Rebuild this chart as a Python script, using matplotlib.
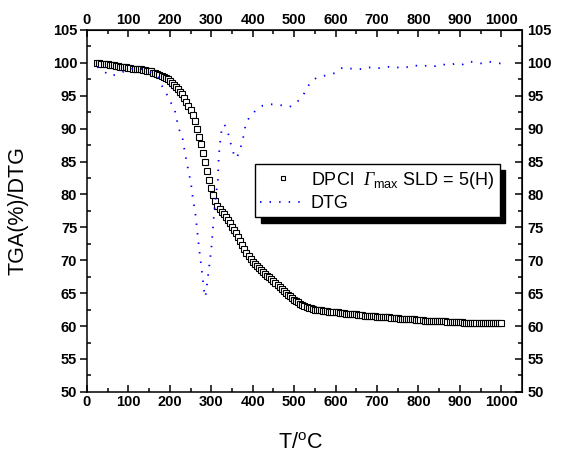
import matplotlib
matplotlib.use('Agg')
import matplotlib.pyplot as plt
import numpy as np

plt.rcParams['font.family'] = ['Liberation Sans', 'DejaVu Sans']
plt.rcParams['mathtext.fontset'] = 'custom'
plt.rcParams['mathtext.rm'] = 'Liberation Sans'
plt.rcParams['mathtext.it'] = 'Liberation Sans:italic'
# italic capital Gamma: mathtext keeps Greek capitals upright in \mathit
plt.rcParams['mathtext.cal'] = 'Liberation Serif:italic'

# TGA curve, one reading every 5 degC from 25 to 1000
tga_temp = np.arange(25, 1001, 5)
tga_mass = [
    100.0, 100.0, 99.9, 99.9, 99.8, 99.8, 99.7, 99.6, 99.6, 99.5,
    99.5, 99.4, 99.4, 99.3, 99.3, 99.2, 99.2, 99.1, 99.1, 99.0,
    99.0, 99.0, 98.9, 98.9, 98.8, 98.8, 98.7, 98.5, 98.4, 98.3,
    98.1, 98.0, 97.8, 97.7, 97.5, 97.3, 97.0, 96.7, 96.4, 96.0,
    95.6, 95.2, 94.7, 94.1, 93.5, 92.9, 92.1, 91.1, 90.0, 88.8,
    87.6, 86.3, 84.9, 83.5, 82.2, 81.0, 79.9, 79.0, 78.3, 77.8,
    77.4, 77.0, 76.6, 76.1, 75.6, 75.1, 74.6, 74.1, 73.5, 72.9,
    72.3, 71.7, 71.1, 70.6, 70.2, 69.8, 69.5, 69.1, 68.8, 68.5,
    68.2, 67.9, 67.6, 67.4, 67.1, 66.8, 66.5, 66.2, 65.9, 65.6,
    65.3, 65.0, 64.7, 64.5, 64.2, 64.0, 63.8, 63.6, 63.4, 63.2,
    63.0, 62.9, 62.8, 62.7, 62.6, 62.5, 62.5, 62.4, 62.4, 62.3,
    62.3, 62.3, 62.2, 62.2, 62.2, 62.1, 62.1, 62.0, 62.0, 62.0,
    61.9, 61.9, 61.9, 61.8, 61.8, 61.8, 61.7, 61.7, 61.7, 61.6,
    61.6, 61.6, 61.5, 61.5, 61.5, 61.4, 61.4, 61.4, 61.4, 61.3,
    61.3, 61.3, 61.2, 61.2, 61.2, 61.2, 61.1, 61.1, 61.1, 61.1,
    61.0, 61.0, 61.0, 61.0, 60.9, 60.9, 60.9, 60.9, 60.8, 60.8,
    60.8, 60.8, 60.8, 60.7, 60.7, 60.7, 60.7, 60.7, 60.7, 60.6,
    60.6, 60.6, 60.6, 60.6, 60.6, 60.6, 60.6, 60.5, 60.5, 60.5,
    60.5, 60.5, 60.5, 60.5, 60.5, 60.5, 60.5, 60.5, 60.5, 60.5,
    60.5, 60.5, 60.5, 60.5, 60.5, 60.5,
]

# DTG curve
dtg_temp = [25, 41, 57, 75, 93, 110, 126, 142, 162, 172, 182, 192, 201, 211,
            218, 223, 230, 236, 243, 251, 255, 262, 271, 278, 283, 286, 291,
            300, 307, 310, 316, 318, 322, 326, 332, 340, 348, 355, 360, 367,
            376, 384, 395, 408, 424, 441, 457, 473, 489, 505, 521, 537, 553,
            569, 585, 601, 617, 633, 649, 665, 681, 697, 713, 729, 745, 761,
            777, 793, 809, 825, 841, 857, 873, 889, 905, 921, 937, 953, 969,
            985, 1000]
dtg_vals = [99.4, 98.7, 98.0, 98.3, 98.8, 99.1, 99.2, 98.8, 98.4, 97.8, 96.4,
            95.3, 94.1, 93.1, 91.0, 89.8, 88.8, 86.5, 84.2, 81.7, 79.7, 76.9,
            71.6, 68.0, 65.2, 64.4, 67.0, 71.6, 77.2, 79.2, 82.2, 85.8, 88.3,
            90.3, 90.6, 89.5, 87.5, 86.0, 85.5, 86.3, 88.3, 90.9, 92.0, 92.8,
            93.5, 93.7, 93.7, 93.5, 93.3, 93.9, 95.0, 96.8, 97.7, 98.0, 98.2,
            98.5, 99.3, 99.1, 99.2, 99.0, 99.3, 99.1, 99.3, 99.4, 99.2, 99.5,
            99.3, 99.6, 99.4, 99.7, 99.5, 99.8, 99.6, 99.9, 99.7, 100.2, 100.1,
            99.9, 100.2, 100.0, 99.9]

fig = plt.figure(figsize=(5.61, 4.61), dpi=100)
ax = fig.add_axes([0.155, 0.15, 0.7755, 0.785])

ax.plot(tga_temp, tga_mass, 's', ms=5, mfc='white', mec='black', mew=0.8,
        label='DPCl  $\\mathcal{Γ}_{\\rm max}$ SLD = 5(H)')
ax.plot(dtg_temp, dtg_vals, color='blue', lw=1.3, dashes=(0.8, 4.5),
        label='DTG')

ax.set_xlim(0, 1050)
ax.set_ylim(50, 105)
ax.set_xticks(np.arange(0, 1001, 100))
ax.set_xticks(np.arange(50, 1050, 100), minor=True)
ax.set_yticks(np.arange(50, 106, 5))
ax.set_yticks(np.arange(52.5, 105, 5), minor=True)

for s in ax.spines.values():
    s.set_linewidth(1.1)

ax.tick_params(axis='y', which='major', direction='out', length=5, width=1.1)
ax.tick_params(axis='y', which='minor', direction='in', length=3, width=1.1)
ax.tick_params(axis='x', which='major', direction='in', length=5, width=1.1)
ax.tick_params(axis='x', which='minor', direction='in', length=3, width=1.1)
for lab in ax.get_xticklabels() + ax.get_yticklabels():
    lab.set_fontweight('bold')
    lab.set_fontsize(10.5)
ax.tick_params(axis='x', pad=2)
ax.tick_params(axis='y', pad=2)

top = ax.secondary_xaxis('top')
top.set_xticks(np.arange(0, 1001, 100))
top.set_xticks(np.arange(50, 1050, 100), minor=True)
top.tick_params(which='major', direction='in', length=5, width=1.1, pad=2)
top.tick_params(which='minor', direction='in', length=3, width=1.1)
for lab in top.get_xticklabels():
    lab.set_fontweight('bold')
    lab.set_fontsize(10.5)

right = ax.secondary_yaxis('right')
right.set_yticks(np.arange(50, 106, 5))
right.set_yticks(np.arange(52.5, 105, 5), minor=True)
right.tick_params(which='major', direction='in', length=5, width=1.1, pad=4)
right.tick_params(which='minor', direction='in', length=3, width=1.1)
for lab in right.get_yticklabels():
    lab.set_fontweight('bold')
    lab.set_fontsize(10.5)

ax.set_xlabel('T/$^{\\rm o}$C', fontsize=15.5)
ax.set_ylabel('TGA(%)/DTG', fontsize=15.5)
ax.xaxis.set_label_coords(0.49, -0.115)
ax.yaxis.set_label_coords(-0.135, 0.5)

leg = ax.legend(loc='upper left', bbox_to_anchor=(0.4545, 0.644),
                bbox_transform=fig.transFigure, borderaxespad=0,
                fontsize=13, numpoints=1, markerscale=0.7,
                handlelength=2.5, handletextpad=0.3, borderpad=0.3,
                labelspacing=0.25, fancybox=False, framealpha=1,
                edgecolor='black',
                shadow={'ox': 4.3, 'oy': -4.3, 'color': 'black', 'alpha': 1})
leg.get_frame().set_linewidth(1.0)

fig.savefig('out.png', dpi=100)
